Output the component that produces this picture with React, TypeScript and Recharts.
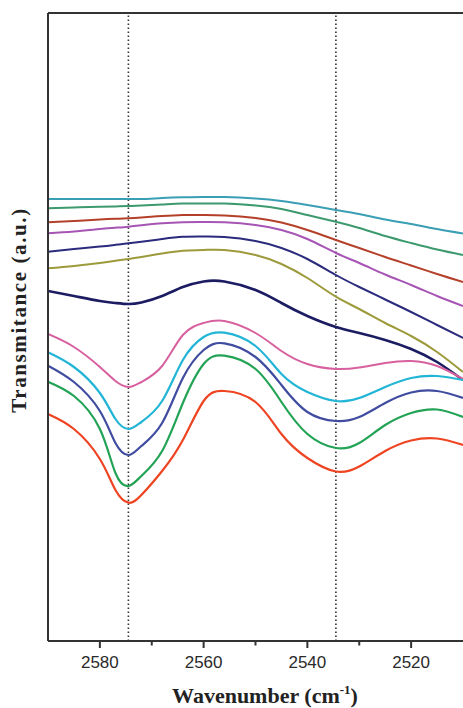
import React from "react"
import { LineChart, Line, XAxis, YAxis, ReferenceLine, Label } from "recharts"

// wavenumber samples (cm-1), x axis runs high -> low
const wavenumbers = [2590, 2585, 2580, 2577, 2574.5, 2572, 2568, 2564, 2560, 2556, 2550, 2545, 2540, 2534.5, 2530, 2525, 2520, 2515, 2510]

// transmittance, arbitrary units (offset curves)
const teal = [442, 442, 442, 442, 442, 442, 443, 443.7, 444, 444, 442.5, 440, 436, 431, 427, 421.5, 417, 412, 407.5]
const greenTop = [432.7, 433.5, 434.2, 434.6, 435, 435.5, 436.5, 437.5, 437.5, 437.5, 435.5, 432, 426, 419.3, 413, 405, 398, 391.5, 386]
const brown = [418.7, 420, 421.5, 422.2, 422.7, 423.5, 425, 426, 426, 425.5, 423, 418.5, 411, 401, 393, 384, 375.5, 367, 359]
const violet = [407.7, 409.5, 412, 413.3, 414.3, 415.7, 417.7, 418.8, 419, 418.7, 416, 411, 402, 388, 378, 366.5, 356, 345, 335]
const navy = [389.3, 392, 394.5, 396.2, 397.7, 399.3, 402, 404.2, 404.5, 404, 400, 393, 382, 366, 354, 341.5, 329, 316, 303]
const olive = [372.7, 375, 378, 380.2, 382, 384, 387.5, 390.3, 391, 391, 386, 377, 363, 344.3, 332, 318, 305, 289, 269]
const darkNavy = [350, 345, 340, 338, 337, 338.5, 345, 354, 359.5, 359.5, 351, 338, 325, 314, 308, 301, 292, 279, 261]
const pink = [307, 294, 274, 260, 254, 259, 275, 306, 318, 320, 308, 290, 277, 272, 273.5, 278, 280, 275, 262]
const cyan = [288.7, 274, 248, 222, 212, 219, 240, 281, 304, 308.3, 295, 267, 249, 240, 243, 254, 263, 265, 261]
const blue = [275.3, 259, 230, 198, 186, 195, 218, 263, 291, 297.7, 284, 256, 229, 220, 224, 238, 248.5, 250, 243]
const greenLow = [259.3, 245, 212, 168, 155, 165, 190, 238, 277, 285.3, 272, 239, 207, 193, 198, 216, 228, 231.5, 224]
const redLow = [227, 212, 182, 151, 138.3, 146, 170, 201, 240, 250, 239, 207, 183, 169.5, 174.5, 190, 200.5, 202.5, 196]

const xTicks = [2580, 2570, 2560, 2550, 2540, 2530, 2520]
const majorTicks = [2580, 2560, 2540, 2520]
const markers = [2574.5, 2534.5]

const series = [
  { key: "teal", values: teal, color: "#3a9fb5", width: 2 },
  { key: "greenTop", values: greenTop, color: "#3d9a6e", width: 2 },
  { key: "brown", values: brown, color: "#b5402a", width: 2 },
  { key: "violet", values: violet, color: "#a655b5", width: 2 },
  { key: "navy", values: navy, color: "#2b2b7d", width: 2 },
  { key: "olive", values: olive, color: "#9c9a3a", width: 2 },
  { key: "darkNavy", values: darkNavy, color: "#1c1c63", width: 2.6 },
  { key: "pink", values: pink, color: "#d7609f", width: 2 },
  { key: "cyan", values: cyan, color: "#22b5d5", width: 2.2 },
  { key: "blue", values: blue, color: "#3f4ca0", width: 2.2 },
  { key: "greenLow", values: greenLow, color: "#22a355", width: 2.2 },
  { key: "redLow", values: redLow, color: "#ee4422", width: 2.2 },
]

const data = wavenumbers.map((w, i) => {
  const row: any = { w }
  series.forEach((s) => (row[s.key] = s.values[i]))
  return row
})

const AxisTick = (props: any) => {
  const { x, y, payload } = props
  const major = majorTicks.includes(payload.value)
  return (
    <g>
      <line x1={x} x2={x} y1={y} y2={y + (major ? 7 : 4.5)} stroke="#333" strokeWidth={2} />
      {major && (
        <text x={x} y={y + 27} textAnchor="middle" fontFamily="Liberation Sans, Arial" fontSize={17} fill="#2a2a2a">
          {payload.value}
        </text>
      )}
    </g>
  )
}

export default function App() {
  return (
    <div style={{ position: "absolute", left: 0, top: 0 }}>
      <LineChart width={463} height={708} data={data} margin={{ top: 13, right: 0, bottom: 0, left: 0 }}>
        <XAxis
          dataKey="w"
          type="number"
          domain={[2510, 2590]}
          reversed
          ticks={xTicks}
          tick={<AxisTick />}
          tickLine={false}
          tickSize={0}
          tickMargin={0}
          height={67}
          axisLine={{ stroke: "#333", strokeWidth: 2 }}
          allowDataOverflow
        >
          <Label
            content={() => (
              <text x={265} y={703} textAnchor="middle" fontFamily="Liberation Serif, Times New Roman, serif" fontWeight="bold" fontSize={22} fill="#222">
                Wavenumber (cm
                <tspan dy={-9} fontSize={13}>-1</tspan>
                <tspan dy={9}>)</tspan>
              </text>
            )}
          />
        </XAxis>
        <YAxis
          type="number"
          domain={[0, 628]}
          tick={false}
          tickLine={false}
          width={48}
          axisLine={{ stroke: "#333", strokeWidth: 2 }}
          allowDataOverflow
        >
          <Label
            content={() => (
              <text
                x={26}
                y={310}
                transform="rotate(-90 26 310)"
                textAnchor="middle"
                fontFamily="Liberation Serif, Times New Roman, serif"
                fontWeight="bold"
                fontSize={21}
                letterSpacing={1.6}
                fill="#222"
              >
                Transmitance (a.u.)
              </text>
            )}
          />
        </YAxis>
        <ReferenceLine y={628} stroke="#333" strokeWidth={2} />
        {markers.map((m) => (
          <ReferenceLine key={m} x={m} stroke="#333" strokeWidth={1.6} strokeDasharray="1.5 2.5" />
        ))}
        {series.map((s) => (
          <Line
            key={s.key}
            dataKey={s.key}
            type="natural"
            stroke={s.color}
            strokeWidth={s.width}
            dot={false}
            isAnimationActive={false}
          />
        ))}
      </LineChart>
    </div>
  )
}
